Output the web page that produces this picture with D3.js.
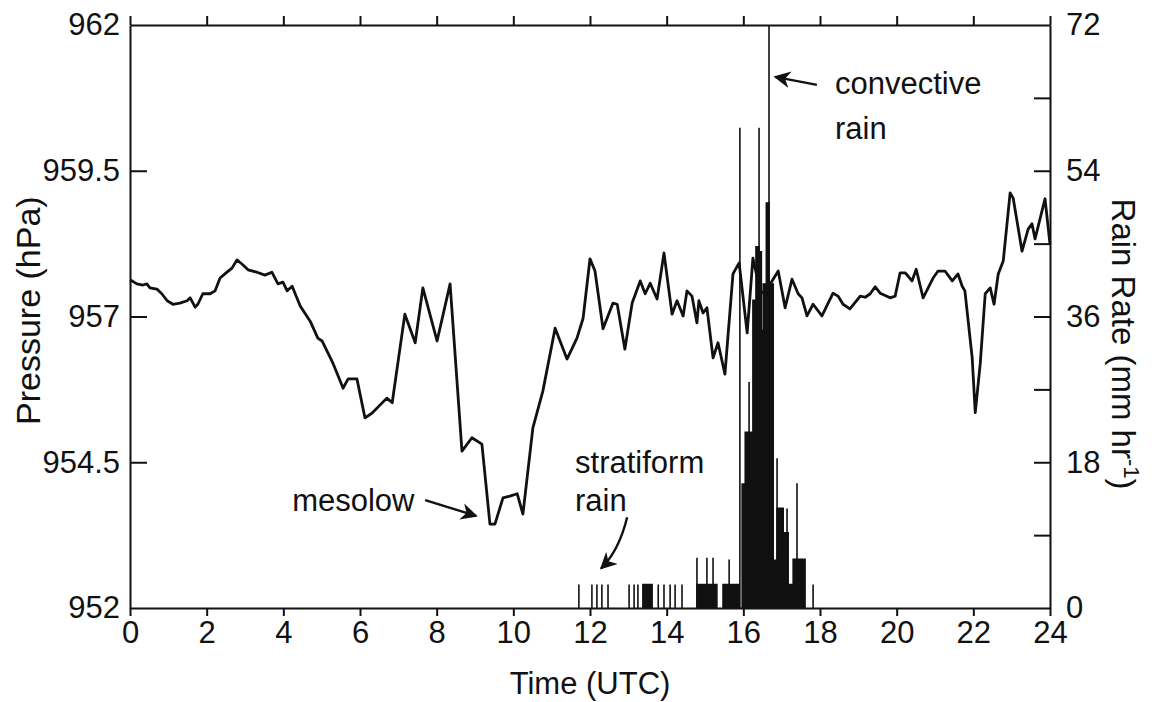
<!DOCTYPE html>
<html>
<head>
<meta charset="utf-8">
<script src="https://cdn.jsdelivr.net/npm/d3@7"></script>
<style>
  body { margin: 0; background: #fff; }
  text { font-family: "Liberation Sans", Arial, Helvetica, sans-serif; fill: #111; }
</style>
</head>
<body>
<div id="chart"></div>
<script>
// pressure trace (hours UTC, hPa)
const pTime = [0, 0.18, 0.34, 0.44, 0.52, 0.70, 0.83, 0.97, 1.12, 1.30, 1.49, 1.57, 1.70, 1.77, 1.90, 2.09, 2.22, 2.35, 2.53, 2.66,
  2.79, 2.92, 3.08, 3.31, 3.52, 3.70, 3.86, 3.99, 4.10, 4.23, 4.44, 4.70, 4.90, 5.01, 5.30, 5.56, 5.69, 5.92, 6.13, 6.31,
  6.70, 6.84, 7.17, 7.44, 7.64, 8.01, 8.35, 8.66, 8.92, 9.18, 9.39, 9.52, 9.73, 9.91, 10.10, 10.25, 10.51, 10.77, 11.09, 11.40,
  11.66, 11.82, 12.00, 12.13, 12.34, 12.60, 12.71, 12.91, 13.10, 13.31, 13.44, 13.57, 13.75, 13.93, 14.14, 14.27, 14.43, 14.53, 14.66, 14.79,
  14.84, 14.95, 15.05, 15.21, 15.34, 15.52, 15.73, 15.89, 16.10, 16.25, 16.44, 16.57, 16.75, 16.91, 17.09, 17.27, 17.43, 17.53, 17.66, 17.82,
  18.05, 18.34, 18.47, 18.60, 18.78, 19.05, 19.18, 19.31, 19.44, 19.57, 19.83, 19.96, 20.09, 20.22, 20.30, 20.40, 20.51, 20.69, 20.95, 21.08,
  21.26, 21.45, 21.60, 21.71, 21.78, 21.97, 22.05, 22.18, 22.31, 22.44, 22.54, 22.65, 22.78, 22.96, 23.04, 23.27, 23.43, 23.53, 23.61, 23.87, 24];
const pValue = [957.63, 957.56, 957.54, 957.56, 957.49, 957.47, 957.39, 957.27, 957.21, 957.23, 957.27, 957.32, 957.16, 957.21, 957.39, 957.39, 957.44, 957.66, 957.76, 957.83,
  957.97, 957.90, 957.80, 957.76, 957.71, 957.76, 957.56, 957.59, 957.44, 957.52, 957.18, 956.92, 956.63, 956.58, 956.19, 955.77, 955.93, 955.93, 955.26, 955.34,
  955.60, 955.52, 957.04, 956.55, 957.49, 956.58, 957.56, 954.69, 954.92, 954.81, 953.44, 953.44, 953.89, 953.92, 953.96, 953.61, 955.09, 955.72, 956.80, 956.27,
  956.63, 956.97, 957.99, 957.78, 956.79, 957.23, 957.21, 956.44, 957.23, 957.61, 957.39, 957.57, 957.30, 958.09, 957.04, 957.27, 957.01, 957.44, 957.35, 956.89,
  957.27, 957.06, 957.15, 956.29, 956.55, 956.01, 957.73, 957.92, 956.72, 958.00, 957.44, 957.39, 957.61, 957.78, 957.15, 957.64, 957.39, 957.32, 957.01, 957.21,
  957.01, 957.40, 957.35, 957.21, 957.13, 957.35, 957.33, 957.39, 957.51, 957.40, 957.32, 957.35, 957.75, 957.75, 957.69, 957.61, 957.81, 957.32, 957.66, 957.78,
  957.78, 957.61, 957.73, 957.52, 957.44, 956.29, 955.35, 956.19, 957.39, 957.49, 957.21, 957.73, 957.95, 959.12, 959.03, 958.12, 958.50, 958.59, 958.33, 959.02, 958.24];

// rain rate bars (start hour, end hour, mm/hr); start == end is a single spike
const rainStart = [11.71, 12.05, 12.18, 12.31, 12.47, 13.02, 13.15, 13.25, 13.38, 13.78, 13.93, 14.09, 14.22, 14.40,
  14.79, 14.79, 15.05, 15.21, 15.47, 15.63, 15.91, 15.97, 16.05, 16.15, 16.25, 16.33, 16.41, 16.44, 16.47, 16.52, 16.60, 16.67, 16.67,
  16.78, 16.88, 16.88, 17.04, 17.14, 17.17, 17.30, 17.40, 17.82];
const rainEnd = [11.71, 12.05, 12.18, 12.31, 12.47, 13.02, 13.15, 13.25, 13.62, 13.78, 13.93, 14.09, 14.22, 14.40,
  15.31, 14.79, 15.05, 15.21, 15.89, 15.63, 15.91, 16.05, 16.25, 16.15, 16.33, 16.41, 16.41, 16.47, 16.52, 16.60, 16.67, 16.67, 16.78,
  16.88, 16.88, 17.04, 17.17, 17.14, 17.30, 17.61, 17.40, 17.82];
const rainRate = [2.9, 2.9, 2.9, 2.9, 2.9, 2.9, 2.9, 2.9, 2.9, 2.9, 2.9, 2.9, 2.9, 2.9,
  2.9, 6.2, 6.2, 6.2, 2.9, 6.0, 59.3, 15.3, 21.7, 27.9, 38, 44.6, 59.3, 44, 34.3, 40, 50, 72, 40,
  5.9, 18.5, 12.3, 9.3, 12.3, 2.9, 6.0, 15.4, 2.9];

const timeTicks = d3.range(0, 25, 2);
const pressureTicks = [952, 954.5, 957, 959.5, 962];
const rainTicks = d3.range(0, 73, 9);
const rainLabels = [0, 18, 36, 54, 72];

const width = 1158, height = 702;
const margin = {top: 25, right: 108, bottom: 94, left: 130};

const svg = d3.select("#chart").append("svg")
    .attr("width", width)
    .attr("height", height);

const x = d3.scaleLinear().domain([0, 24]).range([margin.left, width - margin.right]);
const yP = d3.scaleLinear().domain([952, 962]).range([height - margin.bottom, margin.top]);
const yR = d3.scaleLinear().domain([0, 72]).range([height - margin.bottom, margin.top]);

// rain bars
svg.append("g")
    .attr("fill", "#111")
    .attr("stroke", "#111")
    .attr("stroke-width", 1.6)
    .selectAll("path")
    .data(rainRate.map((r, i) => ({s: rainStart[i], e: rainEnd[i], r: r})))
    .join("path")
    .attr("d", d => "M" + x(d.s) + "," + yR(0) + "V" + yR(d.r) + "H" + x(d.e) + "V" + yR(0) + "Z");

// pressure line
const line = d3.line()
    .x((d, i) => x(pTime[i]))
    .y(d => yP(d));

svg.append("path")
    .datum(pValue)
    .attr("fill", "none")
    .attr("stroke", "#111")
    .attr("stroke-width", 2.8)
    .attr("stroke-linejoin", "round")
    .attr("d", line);

// axes
const fontSize = 31;

const xAxisBottom = svg.append("g")
    .attr("transform", "translate(0," + yP(952) + ")")
    .call(d3.axisBottom(x).tickValues(timeTicks).tickSize(8).tickSizeOuter(0).tickPadding(5));

const xAxisTop = svg.append("g")
    .attr("transform", "translate(0," + yP(962) + ")")
    .call(d3.axisTop(x).tickValues(timeTicks).tickSize(9).tickSizeOuter(0).tickFormat(""));

const yAxisLeft = svg.append("g")
    .attr("transform", "translate(" + x(0) + ",0)")
    .call(d3.axisLeft(yP).tickValues(pressureTicks).tickSize(-17).tickSizeOuter(0).tickPadding(10)
        .tickFormat(d => d3.format("")(d)));

const yAxisRight = svg.append("g")
    .attr("transform", "translate(" + x(24) + ",0)")
    .call(d3.axisRight(yR).tickValues(rainTicks).tickSize(-16).tickSizeOuter(0).tickPadding(16)
        .tickFormat(d => rainLabels.includes(d) ? d : ""));

[xAxisBottom, xAxisTop, yAxisLeft, yAxisRight].forEach(g => {
    g.selectAll("path, line").attr("stroke", "#111").attr("stroke-width", 2);
    g.selectAll("text").attr("font-size", fontSize).attr("fill", "#111")
        .attr("font-family", "'Liberation Sans', Arial, sans-serif");
});
// no inward ticks at the corners
yAxisLeft.selectAll(".tick line").filter(d => d === 952 || d === 962).remove();
yAxisRight.selectAll(".tick line").filter(d => d === 0 || d === 72).remove();

// axis titles
svg.append("text")
    .attr("transform", "translate(28," + yP(957.1) + ") rotate(-90)")
    .attr("text-anchor", "middle")
    .attr("dy", "0.35em")
    .attr("font-size", 34)
    .text("Pressure (hPa)");

const rt = svg.append("text")
    .attr("transform", "translate(1124," + yR(32.6) + ") rotate(90)")
    .attr("text-anchor", "middle")
    .attr("dy", "0.35em")
    .attr("font-size", 33);
rt.append("tspan").text("Rain Rate (mm hr");
rt.append("tspan").attr("font-size", 22).attr("dy", -12).text("-1");
rt.append("tspan").attr("dy", 12).text(")");

svg.append("text")
    .attr("x", x(12))
    .attr("y", 694)
    .attr("text-anchor", "middle")
    .attr("font-size", 31)
    .text("Time (UTC)");

// annotations
const defs = svg.append("defs");
defs.append("marker")
    .attr("id", "arrow")
    .attr("viewBox", "0 0 10 10")
    .attr("refX", 9).attr("refY", 5)
    .attr("markerWidth", 7).attr("markerHeight", 7)
    .attr("markerUnits", "strokeWidth")
    .attr("orient", "auto")
    .append("path")
    .attr("d", "M0,0 L10,5 L0,10 L3,5 Z")
    .attr("fill", "#111");

const ann = svg.append("g").attr("font-size", 31);

ann.append("text").attr("x", x(18.39)).attr("y", yR(64.8)).attr("dy", "0.35em").text("convective");
ann.append("text").attr("x", x(18.39)).attr("y", yR(59.3)).attr("dy", "0.35em").text("rain");
ann.append("line")
    .attr("x1", x(17.92)).attr("y1", yR(64.6))
    .attr("x2", x(16.83)).attr("y2", yR(65.6))
    .attr("stroke", "#111").attr("stroke-width", 2.4)
    .attr("marker-end", "url(#arrow)");

ann.append("text").attr("x", x(11.61)).attr("y", yR(18.0)).attr("dy", "0.35em").text("stratiform");
ann.append("text").attr("x", x(11.61)).attr("y", yR(13.3)).attr("dy", "0.35em").text("rain");
ann.append("path")
    .attr("d", "M" + x(12.97) + "," + yR(11.2) + "Q" + x(12.75) + "," + yR(7) + " " + x(12.29) + "," + yR(4.9))
    .attr("fill", "none")
    .attr("stroke", "#111").attr("stroke-width", 2.4)
    .attr("marker-end", "url(#arrow)");

ann.append("text").attr("x", x(4.23)).attr("y", yP(953.85)).attr("dy", "0.35em").text("mesolow");
ann.append("line")
    .attr("x1", x(7.70)).attr("y1", yP(953.85))
    .attr("x2", x(9.03)).attr("y2", yP(953.58))
    .attr("stroke", "#111").attr("stroke-width", 2.4)
    .attr("marker-end", "url(#arrow)");
</script>
</body>
</html>
